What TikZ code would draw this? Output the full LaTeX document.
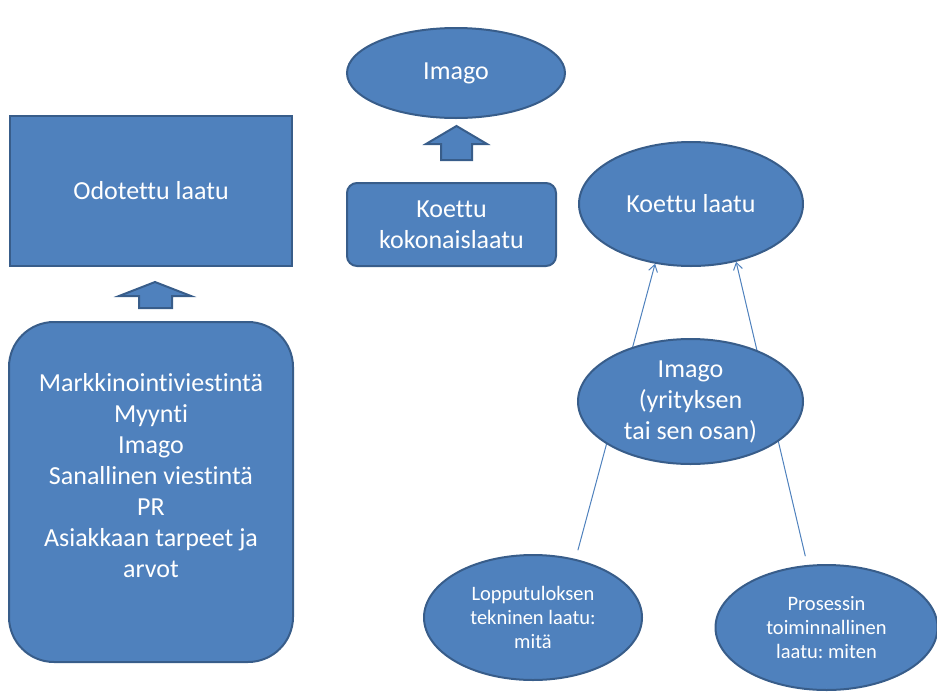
\documentclass[tikz,border=0pt]{standalone}
\usepackage{fontspec}
\setmainfont{Carlito}[Ligatures=NoCommon]
\usetikzlibrary{shapes.geometric,arrows.meta,backgrounds}
\definecolor{boxfill}{HTML}{4F81BD}
\definecolor{boxline}{HTML}{385D8A}
\frenchspacing
\begin{document}
\begin{tikzpicture}[x=1pt,y=-1pt,
  shapebase/.style={fill=boxfill,draw=boxline,line width=2pt,text=white,align=center,inner sep=0pt},
  oval/.style={shapebase,ellipse},
  bigfont/.style={font=\fontsize{26}{31}\selectfont\frenchspacing},
  smallfont/.style={font=\fontsize{20.5}{24}\selectfont\frenchspacing},
  link/.style={draw=boxfill,line width=1pt,-{Straight Barb[length=7pt,width=9pt]}},
  blockarrow/.style={fill=boxfill,draw=boxline,line width=2pt,line join=miter}]
\useasboundingbox (0,0) rectangle (937,691);
\node[shapebase,rectangle,minimum width=282pt,minimum height=150pt,bigfont] (odot) at (151,191) {Odotettu laatu};
\node[shapebase,rectangle,rounded corners=45pt,minimum width=284pt,minimum height=340pt] (mbox) at (151,492) {};
\node[bigfont,text=white,align=center,inner sep=0pt] (mtext) at (151,476) {Markkinointiviestintä\\Myynti\\Imago\\Sanallinen viestintä\\PR\\Asiakkaan tarpeet ja\\arvot};
\node[oval,minimum width=218pt,minimum height=90pt,bigfont] (imtop) at (456,73) {Imago};
\node[shapebase,rectangle,rounded corners=10pt,minimum width=209pt,minimum height=83pt,bigfont] (kok) at (451.5,224.5) {Koettu\\kokonaislaatu};
\node[oval,minimum width=224pt,minimum height=124pt,bigfont] (kl) at (691,204) {Koettu laatu};
\node[oval,minimum width=225pt,minimum height=125pt,bigfont] (imid) at (690.5,401.5) {Imago\\(yrityksen\\tai sen osan)};
\node[oval,minimum width=218pt,minimum height=125pt,smallfont] (bl) at (533,617.5) {Lopputuloksen\\tekninen laatu:\\mitä};
\node[oval,minimum width=222pt,minimum height=125pt,smallfont] (br) at (826.5,627.5) {Prosessin\\toiminnallinen\\laatu: miten};
\draw[blockarrow] (139,308) -- (139,296) -- (119,296) -- (155,282) -- (191,296) -- (172,296) -- (172,308) -- cycle;
\draw[blockarrow] (441,160) -- (441,144) -- (426,144) -- (456.5,126) -- (487,144) -- (472,144) -- (472,160) -- cycle;
\begin{scope}[on background layer]
\draw[link,shorten <=9pt] (bl.54) -- (kl.-121.5);
\draw[link,shorten <=9pt] (br.107.5) -- (kl.-52);
\end{scope}
\end{tikzpicture}
\end{document}
